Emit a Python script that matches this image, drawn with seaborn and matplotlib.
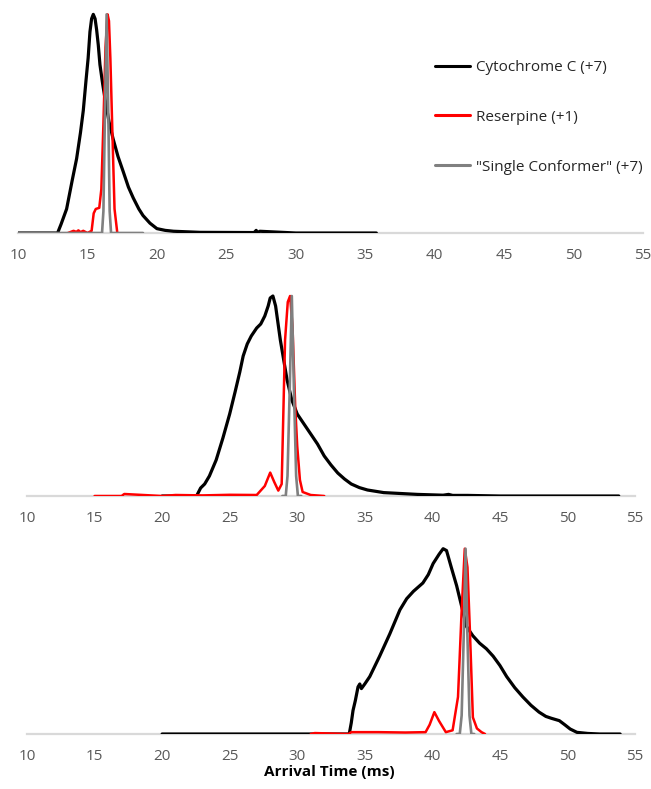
import numpy as np
import pandas as pd
import matplotlib
matplotlib.use("Agg")
import matplotlib.pyplot as plt
import seaborn as sns

# series names / colours
labels = ['Cytochrome C (+7)', 'Reserpine (+1)', '"Single Conformer" (+7)']
colors = ['#000000', '#ff0000', '#808080']
ticks = [10, 15, 20, 25, 30, 35, 40, 45, 50, 55]

# ---- panel 1 ----
cyt1_x = [10, 12.0, 12.85, 13.1, 13.5, 13.9, 14.22, 14.5, 14.7, 14.9, 15.05, 15.18, 15.3, 15.42,
          15.55, 15.66, 15.78, 15.9, 16.1, 16.3, 16.55, 16.85, 17.2, 17.58, 17.95, 18.3, 18.7,
          19.0, 19.5, 20.0, 20.6, 21.2, 23.1, 27.0, 27.15, 27.25, 27.4, 30, 35.8]
cyt1_y = [0, 0, 0.0, 0.04, 0.11, 0.24, 0.34, 0.46, 0.56, 0.70, 0.80, 0.92, 0.98, 1.0,
          0.98, 0.93, 0.86, 0.77, 0.68, 0.60, 0.51, 0.43, 0.35, 0.28, 0.21, 0.16, 0.11,
          0.08, 0.045, 0.02, 0.012, 0.008, 0.003, 0.002, 0.012, 0.0, 0.008, 0.0, 0.0]
res1_x = [13.6, 14.0, 14.2, 14.35, 14.5, 14.7, 15.0, 15.3, 15.45, 15.6, 15.85, 16.0, 16.15,
          16.3, 16.45, 16.55, 16.65, 16.8, 16.95, 17.15]
res1_y = [0, 0.01, 0.005, 0.012, 0.004, 0.01, 0.0, 0.01, 0.09, 0.11, 0.115, 0.2, 0.5,
          0.85, 1.0, 0.97, 0.8, 0.45, 0.11, 0]
gray1_x = [10, 16.05, 16.15, 16.26, 16.38, 16.5, 16.6, 16.7, 19]
gray1_y = [0, 0, 0.1, 0.55, 1.0, 0.55, 0.1, 0, 0]

# ---- panel 2 ----
cyt2_x = [20, 22.55, 22.7, 22.85, 23.15, 23.5, 24.0, 24.5, 25.0, 25.4, 25.75, 26.0, 26.3,
          26.6, 27.0, 27.3, 27.6, 27.85, 28.0, 28.2, 28.4, 28.75, 29.25, 29.6, 30.0, 30.5,
          31.0, 31.5, 32.0, 32.5, 33.0, 33.5, 34.0, 34.6, 35.2, 36.4, 38.9, 40.8, 41.2, 41.5,
          42.6, 45, 53.8]
cyt2_y = [0, 0, 0.02, 0.04, 0.06, 0.1, 0.18, 0.29, 0.41, 0.52, 0.62, 0.70, 0.76,
          0.80, 0.84, 0.86, 0.90, 0.95, 0.99, 1.0, 0.95, 0.78, 0.58, 0.48, 0.41, 0.36,
          0.31, 0.26, 0.20, 0.155, 0.115, 0.085, 0.06, 0.042, 0.03, 0.017, 0.008, 0.004, 0.008, 0.003,
          0.003, 0.0, 0.0]
res2_x = [15, 17, 17.2, 20, 21, 23, 25, 27, 27.6, 28.0, 28.3, 28.6, 28.85, 29.1, 29.3,
          29.47, 29.65, 29.85, 30.0, 30.2, 30.4, 31, 32]
res2_y = [0, 0, 0.01, 0, 0.005, 0.003, 0.006, 0.005, 0.05, 0.117, 0.07, 0.027, 0.06, 0.78, 0.97,
          1.0, 0.85, 0.45, 0.25, 0.08, 0.02, 0.005, 0]
gray2_x = [28.9, 29.15, 29.28, 29.45, 29.6, 29.75, 29.92, 30.05, 30.3]
gray2_y = [0, 0, 0.1, 0.55, 1.0, 0.55, 0.1, 0, 0]

# ---- panel 3 ----
cyt3_x = [20, 33.85, 34.0, 34.13, 34.3, 34.5, 34.63, 34.75, 35.0, 35.37, 36.1, 36.85, 37.6,
          38.1, 38.6, 39.3, 39.7, 40.06, 40.5, 40.8, 41.05, 41.4, 41.8, 42.2, 42.53, 43.0,
          43.5, 44.0, 44.5, 45.0, 45.5, 46.1, 46.7, 47.3, 47.9, 48.4, 48.8, 49.4, 49.8, 50.2,
          50.7, 51.5, 52.4, 53.9]
cyt3_y = [0, 0, 0.06, 0.127, 0.18, 0.254, 0.27, 0.245, 0.27, 0.31, 0.42, 0.54, 0.67,
          0.73, 0.77, 0.815, 0.86, 0.92, 0.97, 1.0, 0.99, 0.9, 0.80, 0.68, 0.58, 0.53,
          0.49, 0.46, 0.42, 0.37, 0.31, 0.25, 0.20, 0.155, 0.118, 0.095, 0.085, 0.072, 0.05, 0.027,
          0.009, 0.003, 0.0, 0.0]
res3_x = [31, 31.3, 33.8, 34, 36, 38, 39.5, 39.8, 40.15, 40.5, 41.0, 41.5, 41.9, 42.16,
          42.4, 42.6, 42.78, 43.0, 43.3, 43.64, 43.9]
res3_y = [0, 0.005, 0, 0.01, 0.01, 0.008, 0.01, 0.05, 0.118, 0.07, 0.01, 0.02, 0.2, 0.65,
          1.0, 0.9, 0.56, 0.09, 0.03, 0.01, 0]
gray3_x = [41.8, 42.03, 42.17, 42.33, 42.46, 42.59, 42.75, 42.89, 43.1]
gray3_y = [0, 0, 0.1, 0.55, 1.0, 0.55, 0.1, 0, 0]

panels = [
    [(cyt1_x, cyt1_y), (res1_x, res1_y), (gray1_x, gray1_y)],
    [(cyt2_x, cyt2_y), (res2_x, res2_y), (gray2_x, gray2_y)],
    [(cyt3_x, cyt3_y), (res3_x, res3_y), (gray3_x, gray3_y)],
]

sns.set_style("white")
plt.rcParams['font.family'] = ['Open Sans', 'DejaVu Sans']

W, H = 651, 789
fig = plt.figure(figsize=(W / 100, H / 100), dpi=100)

# axes boxes in pixels: left, right, baseline, top
boxes = [(18, 643, 233, 10), (27, 635, 496, 292), (27, 635, 734, 545)]
widths = [2.3, 1.8, 1.9]

axes = []
for (left, right, base, top), series in zip(boxes, panels):
    ax = fig.add_axes([left / W, 1 - base / H, (right - left) / W, (base - top) / H])
    rows = []
    for name, (xs, ys) in zip(labels, series):
        rows.append(pd.DataFrame({'t': xs, 'v': ys, 's': name}))
    df = pd.concat(rows, ignore_index=True)
    for name, col, lw in zip(labels, colors, widths):
        sns.lineplot(data=df[df['s'] == name], x='t', y='v', color=col, lw=lw,
                     sort=False, estimator=None, ax=ax, label=name)
    ax.set_xlim(10, 55)
    ax.set_ylim(0, 1.02)
    ax.set_xticks(ticks)
    ax.set_yticks([])
    ax.set_xlabel('')
    ax.set_ylabel('')
    for sp in ['top', 'right', 'left']:
        ax.spines[sp].set_visible(False)
    ax.spines['bottom'].set_color('#d9d9d9')
    ax.spines['bottom'].set_linewidth(1.6)
    ax.spines['bottom'].set_zorder(0)
    ax.tick_params(axis='x', length=0, pad=11, labelsize=11, labelcolor='#595959')
    ax.get_legend().remove()
    axes.append(ax)

leg = axes[0].legend(loc='upper left', bbox_to_anchor=(435 / W, 1 - 60 / H),
                     bbox_transform=fig.transFigure, frameon=False, fontsize=11,
                     handlelength=2.3, handletextpad=0.4, labelspacing=2.28,
                     borderpad=0, borderaxespad=0)
for h in leg.get_lines():
    h.set_linewidth(2.2)

fig.text(329 / W, 1 - 772 / H, 'Arrival Time (ms)', ha='center', va='center',
         fontsize=11, fontweight='bold', color='#000000')

fig.savefig('out.png', dpi=100)
